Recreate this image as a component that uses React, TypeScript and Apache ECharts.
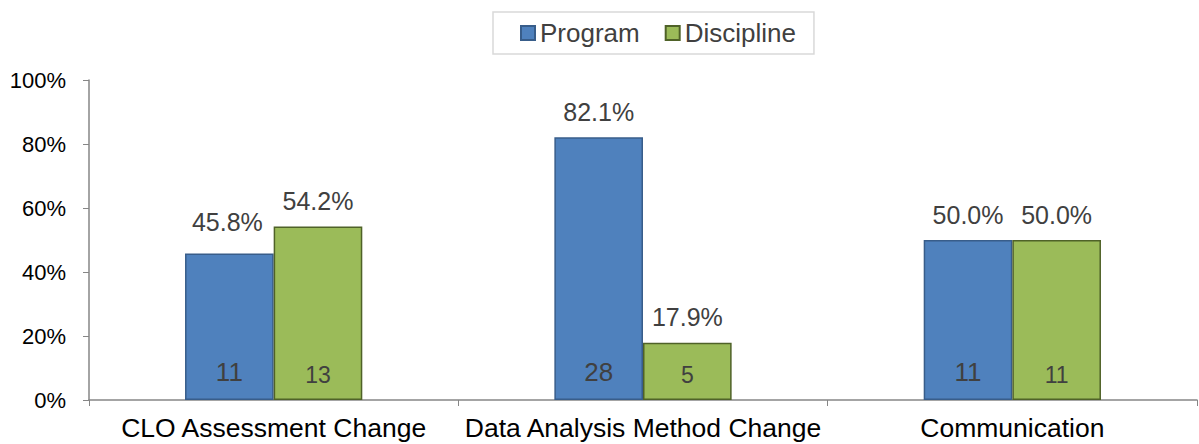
import React, { useEffect, useRef } from "react";
import * as echarts from "echarts";

const categories = ["CLO Assessment Change", "Data Analysis Method Change", "Communication"];
const programPct = [45.8, 82.1, 50.0];
const disciplinePct = [54.2, 17.9, 50.0];
const programCount = [11, 28, 11];
const disciplineCount = [13, 5, 11];
const yTicks = [0, 20, 40, 60, 80, 100];

const FONT = "Liberation Sans, Arial, sans-serif";

export default function App() {
  const ref = useRef<HTMLDivElement>(null);
  useEffect(() => {
    if (!ref.current) return;
    const chart = echarts.init(ref.current, undefined, { renderer: "svg" });
    const barCommon = {
      type: "bar",
      barGap: "0%",
      barCategoryGap: "52%",
    };
    const pctLabel = {
      show: true,
      position: "top",
      distance: 13,
      fontSize: 25,
      color: "#404040",
      fontFamily: FONT,
      formatter: (p: any) => p.value.toFixed(1) + "%",
    };
    chart.setOption({
      animation: false,
      textStyle: { fontFamily: FONT },
      legend: {
        left: 493,
        top: 12,
        padding: [8, 18, 8, 27],
        borderColor: "#d9d9d9",
        borderWidth: 1.5,
        itemWidth: 14,
        itemHeight: 14,
        itemGap: 25,
        icon: "rect",
        textStyle: { fontSize: 26, color: "#404040", fontFamily: FONT },
        data: ["Program", "Discipline"],
      },
      grid: { left: 89, right: 2, top: 80, bottom: 44, containLabel: false },
      xAxis: [
        {
          type: "category",
          data: categories,
          axisLine: { lineStyle: { color: "#868686", width: 1.5 } },
          axisTick: { show: true, length: 6, lineStyle: { color: "#868686" } },
          axisLabel: { fontSize: 26.5, color: "#000", fontFamily: FONT, margin: 14, interval: 0 },
        },
        {
          type: "category",
          data: categories,
          show: false,
          position: "bottom",
        },
      ],
      yAxis: {
        type: "value",
        min: 0,
        max: 100,
        interval: 20,
        axisLine: { show: true, lineStyle: { color: "#868686", width: 1.5 } },
        axisTick: { show: true, length: 6, lineStyle: { color: "#868686" } },
        splitLine: { show: false },
        axisLabel: {
          fontSize: 22,
          color: "#000",
          fontFamily: FONT,
          margin: 23,
          formatter: (v: number) => (yTicks.includes(v) ? v + "%" : ""),
        },
      },
      series: [
        {
          ...barCommon,
          name: "Program",
          xAxisIndex: 0,
          data: programPct.map((v, i) =>
            i === 0 ? { value: v, label: { offset: [-2, -6] } } : v
          ),
          itemStyle: { color: "#4f81bd", borderColor: "#385d8a", borderWidth: 1.5 },
          label: pctLabel,
        },
        {
          ...barCommon,
          name: "Discipline",
          xAxisIndex: 0,
          data: disciplinePct,
          itemStyle: { color: "#9bbb59", borderColor: "#4f6228", borderWidth: 1.5 },
          label: pctLabel,
        },
        {
          ...barCommon,
          name: "ProgramCount",
          xAxisIndex: 1,
          data: programPct,
          silent: true,
          itemStyle: { color: "transparent" },
          label: {
            show: true,
            position: "insideBottom",
            distance: 15,
            fontSize: 26,
            color: "#404040",
            fontFamily: FONT,
            formatter: (p: any) => String(programCount[p.dataIndex]),
          },
        },
        {
          ...barCommon,
          name: "DisciplineCount",
          xAxisIndex: 1,
          data: disciplinePct,
          silent: true,
          itemStyle: { color: "transparent" },
          label: {
            show: true,
            position: "insideBottom",
            distance: 14,
            fontSize: 23,
            color: "#404040",
            fontFamily: FONT,
            formatter: (p: any) => String(disciplineCount[p.dataIndex]),
          },
        },
      ],
    });
    return () => chart.dispose();
  }, []);
  return <div ref={ref} style={{ width: 1199, height: 444, position: "absolute", left: 0, top: 0 }} />;
}
